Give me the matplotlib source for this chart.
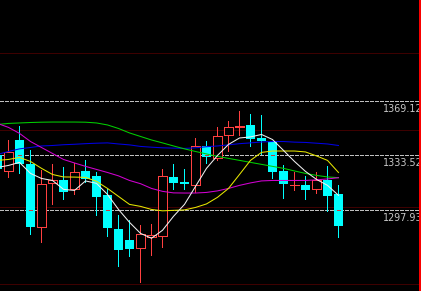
import matplotlib
matplotlib.use('Agg')
import matplotlib.pyplot as plt
from matplotlib.patches import Rectangle
from matplotlib.transforms import blended_transform_factory

# candles, oldest first (first one is cut by the left edge)
opens = [1333.5, 1323.3, 1343.9, 1327.7, 1286.8, 1315.5, 1317.2, 1311.6,
         1323.1, 1319.8, 1307.5, 1285.3, 1278.2, 1273.4, 1280.3, 1281.2,
         1319.2, 1315.9, 1314.4, 1339.9, 1331.7, 1347.0, 1352.2, 1353.1,
         1344.6, 1342.2, 1323.1, 1314.0, 1314.0, 1311.6, 1317.7, 1308.1]
highs = [1337.0, 1343.9, 1352.4, 1337.2, 1323.7, 1328.1, 1325.9, 1328.5,
         1330.3, 1322.4, 1311.8, 1294.4, 1291.2, 1287.9, 1288.6, 1324.4,
         1327.7, 1324.4, 1345.1, 1342.8, 1352.2, 1356.3, 1362.2, 1360.8,
         1359.6, 1342.2, 1327.5, 1322.6, 1319.8, 1322.6, 1326.4, 1314.0]
lows = [1322.0, 1319.4, 1322.0, 1282.5, 1277.0, 1301.6, 1304.9, 1308.6,
        1316.1, 1294.8, 1281.0, 1261.4, 1268.0, 1251.0, 1268.6, 1273.8,
        1311.6, 1311.8, 1309.6, 1328.6, 1330.3, 1336.1, 1346.6, 1339.8,
        1334.2, 1318.5, 1305.7, 1310.7, 1305.3, 1309.2, 1297.2, 1280.3]
closes = [1324.4, 1335.9, 1328.1, 1286.8, 1315.1, 1317.2, 1309.6, 1322.4,
          1318.3, 1306.4, 1286.2, 1271.8, 1272.5, 1282.5, 1281.9, 1320.3,
          1315.5, 1314.6, 1339.9, 1332.4, 1346.4, 1352.3, 1352.4, 1344.4,
          1342.8, 1322.6, 1314.6, 1314.3, 1310.9, 1317.7, 1306.8, 1287.5]

# moving averages
ma5 = [1325.7, 1327.0, 1329.0, 1321.8, 1318.5, 1317.2, 1311.4, 1310.7,
       1316.9, 1315.3, 1308.1, 1298.3, 1289.9, 1282.7, 1279.5, 1284.7,
       1293.8, 1301.6, 1313.3, 1325.1, 1333.5, 1340.7, 1344.9, 1345.6,
       1347.2, 1343.9, 1336.8, 1329.6, 1323.1, 1317.9, 1314.0, 1307.5]
ma10 = [1330.3, 1330.9, 1332.2, 1329.6, 1325.1, 1321.1, 1319.5, 1319.4,
        1319.2, 1316.6, 1312.0, 1306.8, 1301.6, 1300.3, 1298.3, 1297.4,
        1297.7, 1298.0, 1299.6, 1301.9, 1306.2, 1312.0, 1321.1, 1330.3,
        1335.5, 1336.4, 1336.4, 1336.4, 1335.8, 1333.2, 1330.3, 1322.4]
ma20 = [1354.4, 1351.8, 1347.9, 1342.6, 1338.7, 1334.8, 1330.9, 1328.6,
        1326.4, 1324.4, 1322.4, 1320.2, 1317.2, 1315.1, 1312.0, 1310.1,
        1309.1, 1309.0, 1309.0, 1309.4, 1310.4, 1312.0, 1314.0, 1315.6,
        1316.9, 1317.2, 1317.2, 1317.2, 1317.2, 1317.6, 1318.2, 1319.0]
ma30 = [1353.7, 1354.4, 1354.7, 1355.0, 1355.2, 1355.3, 1355.3, 1355.3,
        1355.2, 1354.7, 1353.4, 1351.1, 1348.2, 1345.9, 1343.6, 1341.7,
        1339.7, 1337.8, 1336.1, 1334.5, 1332.9, 1331.6, 1330.3, 1329.0,
        1327.7, 1326.4, 1325.1, 1323.4, 1321.8, 1320.5, 1319.5, 1319.0]
ma60 = [1334.2, 1336.1, 1337.8, 1338.7, 1339.7, 1340.0, 1340.5, 1340.8,
        1341.2, 1341.5, 1341.7, 1341.0, 1340.4, 1339.4, 1338.9, 1338.5,
        1338.3, 1338.1, 1338.5, 1339.2, 1339.7, 1340.4, 1341.2, 1341.7,
        1342.3, 1342.6, 1342.6, 1342.2, 1342.0, 1341.5, 1341.0, 1340.0]

price_levels = [1369.12, 1333.52, 1297.93]
grid_levels = [1400, 1350, 1300, 1250]

UP = '#ff4040'
DOWN = '#00ffff'
W = 0.8

fig = plt.figure(figsize=(4.21, 2.91), dpi=100, facecolor='black')
ax = fig.add_axes([0, 0, 420 / 421, 1])
ax.set_facecolor('black')
ax.set_xlim(0.2273, 38.41)
ax.set_ylim(1245.11, 1434.89)
ax.set_xticks([])
ax.set_yticks([])
for side in ['top', 'left', 'bottom']:
    ax.spines[side].set_visible(False)
ax.spines['right'].set_color('red')
ax.spines['right'].set_linewidth(1.4)
ax.spines['right'].set_zorder(10)

# background levels
for lv in grid_levels:
    ax.axhline(lv, color='#7a0000', lw=0.72, ls=(0, (1, 1)), zorder=0.5)
for lv in price_levels:
    ax.axhline(lv, color='#c0c0c0', lw=0.72, ls=(0, (3, 2)), zorder=0.6,
               antialiased=False)

# candles
for i, (o, h, l, c) in enumerate(zip(opens, highs, lows, closes)):
    if c >= o:
        ax.vlines(i, c, h, color=UP, lw=0.72, zorder=2, antialiased=False)
        ax.vlines(i, l, o, color=UP, lw=0.72, zorder=2, antialiased=False)
        ax.add_patch(Rectangle((i - W / 2, o), W, c - o, facecolor='black',
                               edgecolor=UP, lw=0.72, zorder=2,
                               antialiased=False))
    else:
        ax.vlines(i, l, h, color=DOWN, lw=0.72, zorder=2, antialiased=False)
        ax.add_patch(Rectangle((i - W / 2, c), W, o - c, facecolor=DOWN,
                               edgecolor='none', zorder=2.1,
                               antialiased=False))
        # the level line shows reddish where it crosses a cyan body
        for lv in price_levels:
            if c < lv < o:
                ax.hlines(lv, i - 0.15, i + 0.15, color='#c03f3f', lw=0.72,
                          zorder=2.2, antialiased=False)

x = list(range(len(closes)))
ax.plot(x, ma60, color='#0000e6', lw=0.75, zorder=3)
ax.plot(x, ma30, color='#00d000', lw=0.75, zorder=3)
ax.plot(x, ma20, color='#d200d2', lw=0.75, zorder=3)
ax.plot(x, ma10, color='#e6e600', lw=0.75, zorder=3)
ax.plot(x, ma5, color='#f0f0f0', lw=0.75, zorder=3)

trans = blended_transform_factory(ax.transAxes, ax.transData)
for lv in price_levels:
    ax.annotate(f'{lv:.2f}', xy=(1.0, lv), xycoords=trans,
                xytext=(1.5, -2.2), textcoords='offset points',
                ha='right', va='top', color='#c8c8c8', fontsize=6.9,
                zorder=5)

fig.savefig('out.png', dpi=100, facecolor='black')
